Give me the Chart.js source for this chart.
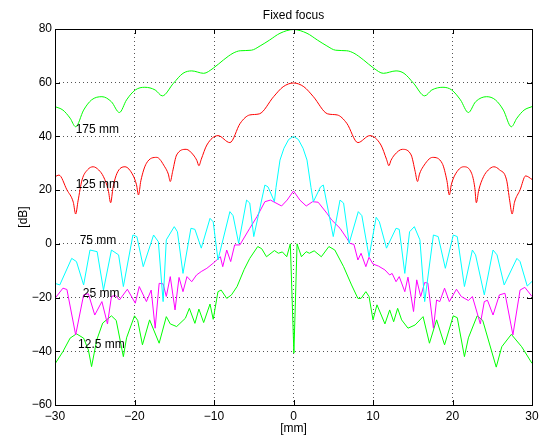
<!DOCTYPE html>
<html>
<head>
<meta charset="utf-8">
<title>Fixed focus</title>
<script src="https://cdn.jsdelivr.net/npm/chart.js@4.4.1/dist/chart.umd.min.js"></script>
<style>
  html, body { margin: 0; padding: 0; background: #fff; }
  canvas { display: block; }
</style>
</head>
<body>
<canvas id="plot" width="549" height="436"></canvas>
<script>
/* Fixed focus: 焦点固定時の横方向ビームプロファイル (5 深さ) */

const X_TICKS = [-30, -20, -10, 0, 10, 20, 30];
const Y_TICKS = [-60, -40, -20, 0, 20, 40, 60, 80];

// 175 mm (green, smooth)
const x175 = [-30, -29, -28.1, -27.4, -26.4, -25.4, -24.1, -22.9, -21.9, -21.0,
  -19.9, -18.7, -17.4, -16.5, -15.1, -13.9, -12.8, -11.3, -10.1, -8.8,
  -7.6, -6.7, -5.3, -4.2, -3.0, -1.7, 0,
  1.7, 3.0, 4.2, 5.3, 6.7, 7.6, 8.8, 10.1, 11.3, 12.9,
  13.9, 15.1, 16.5, 17.4, 18.8, 19.9, 21.0, 22.0, 22.9, 24.3,
  25.4, 26.4, 27.4, 28.1, 29.0, 30];
const db175 = [51.1, 49.8, 46.8, 43.6, 49.8, 53.6, 54.8, 52.9, 48.9, 53.6,
  57.3, 58.3, 57.3, 55.1, 59.8, 63.5, 64.4, 63.5, 65.4, 68.5,
  71.0, 71.9, 72.1, 73.7, 75.9, 78.4, 79.8,
  78.4, 75.9, 73.7, 72.1, 71.9, 71.0, 68.5, 65.4, 63.5, 64.4,
  63.5, 59.8, 55.1, 57.3, 58.3, 57.3, 53.6, 48.9, 52.9, 54.8,
  53.6, 49.8, 43.6, 46.8, 49.8, 51.1];

// 125 mm (red, smooth lobes with sharp nulls)
const x125 = [-30, -29.5, -28.5, -27.7, -27.4, -27.1, -26.6, -25.9, -25.2, -24.5,
  -23.9, -23.3, -23.0, -22.7, -22.2, -21.2, -20.2, -19.75, -19.5, -19.2,
  -18.5, -17.2, -16.2, -15.75, -15.5, -15.2, -14.7, -13.5, -12.6, -12.15,
  -11.9, -11.6, -10.9, -9.5, -8.0, -6.7, -5.5, -4.3, -2.5, -1.3,
  0,
  1.3, 2.5, 4.3, 5.5, 6.7, 8.1, 9.6, 11.0, 11.7, 12.0,
  12.25, 12.7, 13.7, 14.8, 15.3, 15.6, 15.85, 16.3, 17.5, 18.7,
  19.3, 19.6, 19.85, 20.3, 21.4, 22.4, 22.8, 23.0, 23.3, 23.9,
  24.5, 25.2, 25.9, 26.8, 27.2, 27.5, 27.8, 28.5, 29.2, 30];
const db125 = [25.0, 25.6, 20.1, 15.5, 11.1, 16.0, 23.8, 27.6, 28.7, 27.5,
  25.0, 20.0, 15.3, 21.0, 26.3, 28.7, 25.6, 22.0, 18.2, 23.5,
  30.0, 32.2, 28.7, 26.0, 23.2, 27.0, 33.1, 35.2, 33.1, 31.0,
  29.1, 31.5, 36.8, 40.3, 37.7, 44.9, 48.0, 48.4, 54.8, 58.5,
  59.9,
  58.5, 54.8, 48.4, 48.0, 44.9, 37.7, 40.3, 36.8, 31.5, 29.1,
  31.0, 33.1, 35.2, 33.1, 27.0, 23.2, 26.0, 28.7, 32.2, 30.0,
  23.5, 18.2, 22.0, 25.6, 28.7, 26.3, 21.0, 15.3, 20.0, 25.0,
  27.5, 28.7, 27.6, 23.8, 16.0, 11.1, 15.5, 20.1, 25.3, 24.0];

// 75 mm (cyan)
const x75 = [-30, -29.4, -27.9, -27.3, -26.4, -25.6, -24.7, -23.9, -22.9, -22.0,
  -21.4, -20.2, -19.7, -18.9, -17.6, -17.0, -16.4, -16.0, -15.0, -14.6,
  -13.9, -12.9, -12.4, -11.6, -10.5, -10.1, -9.5, -8.0, -7.6, -6.9,
  -5.9, -5.5, -5.0, -3.6, -3.2, -2.4, -2.2, -1.7, -1.2, -0.6,
  0,
  0.6, 1.2, 1.7, 2.2, 2.5, 3.4, 3.75, 5.0, 5.85, 6.3,
  7.0, 8.15, 8.6, 9.5, 10.4, 10.8, 11.7, 12.9, 13.3, 14.0,
  14.6, 15.2, 15.9, 16.5, 17.6, 18.2, 19.1, 20.1, 20.6, 21.5,
  22.5, 22.9, 24.0, 25.1, 25.6, 26.5, 28.1, 28.5, 29.4, 30];
const db75 = [-14.7, -15.3, -5.4, -6.6, -15.3, -2.3, -2.9, -17.2, -2.3, -4.1,
  -15.9, 3.3, 2.7, -8.5, 3.3, 0.8, -21.5, 1.5, 6.4, 4.5,
  -11.0, 5.8, 5.4, -1.6, 9.5, 8.2, -6.0, 12.0, 10.5, 0.2,
  16.3, 15.2, 2.7, 21.9, 21.2, 15.7, 21.0, 31.2, 35.6, 38.9,
  40.0,
  38.9, 35.6, 31.2, 21.0, 15.7, 21.2, 21.9, 2.7, 16.3, 15.2,
  0.2, 12.0, 10.5, -4.8, 9.9, 8.2, -1.6, 5.8, 5.4, -11.0,
  4.5, 6.4, 1.5, -21.5, 3.3, 2.7, -9.1, 3.3, 2.7, -15.9,
  -2.3, -4.1, -19.0, -2.3, -4.1, -15.3, -5.4, -6.6, -15.7, -14.0];

// 25 mm (magenta)
const x25 = [-30, -29.0, -28.5, -27.4, -26.4, -25.8, -25.0, -24.1, -23.4, -22.9,
  -22.4, -21.9, -20.9, -19.9, -19.4, -18.5, -17.9, -17.4, -16.9, -16.4,
  -16.0, -15.5, -14.9, -14.4, -13.9, -13.4, -12.8, -12.2, -11.6, -10.9,
  -10.1, -9.2, -8.9, -8.4, -7.9, -7.4, -6.75, -5.5, -4.6, -3.6,
  -2.9, -1.5, -0.8, 0,
  0.8, 1.6, 2.4, 3.1, 4.2, 4.8, 5.85, 6.7, 7.1, 7.6,
  8.1, 8.5, 9.1, 9.5, 10.0, 10.7, 11.5, 12.1, 12.4, 12.9,
  13.3, 14.0, 14.4, 15.1, 15.5, 16.0, 16.5, 16.9, 17.6, 18.0,
  18.4, 19.0, 19.6, 20.5, 21.1, 22.0, 22.5, 23.5, 24.0, 24.4,
  25.1, 25.9, 26.6, 27.6, 28.5, 29.1, 30];
const db25 = [-20.3, -16.5, -17.0, -33.9, -19.0, -18.6, -26.5, -21.5, -29.8, -19.6,
  -19.2, -20.9, -16.9, -22.1, -15.9, -21.5, -17.2, -31.4, -14.7, -14.9,
  -19.6, -12.2, -24.6, -12.5, -17.8, -12.2, -14.1, -11.6, -10.3, -9.1,
  -7.2, -4.8, -8.5, -2.3, -6.6, -0.4, -0.4, 5.8, 10.1, 15.7,
  16.3, 14.1, 16.3, 19.7,
  16.3, 14.1, 15.7, 15.5, 11.4, 8.9, 5.8, 2.1, 0.2, -0.2,
  -6.0, -3.5, -8.5, -5.0, -7.5, -8.3, -9.7, -11.6, -11.0, -14.1,
  -12.2, -17.8, -12.4, -25.2, -13.4, -19.6, -14.4, -14.6, -31.4, -20.9,
  -21.5, -16.5, -21.5, -16.9, -19.6, -21.1, -19.6, -29.8, -21.5, -21.0,
  -26.5, -19.0, -18.4, -33.9, -17.2, -16.2, -19.6];

// 12.5 mm (green)
const x12 = [-30, -29.0, -28.1, -27.3, -26.4, -25.8, -25.4, -24.75, -24.0, -22.9,
  -22.3, -21.4, -21.0, -20.0, -19.6, -19.0, -18.1, -16.9, -16.0, -15.5,
  -14.7, -13.6, -13.1, -12.4, -11.9, -11.3, -10.5, -10.1, -9.5, -9.1,
  -8.4, -7.8, -7.1, -6.2, -5.5, -4.5, -4.0, -3.4, -2.4, -1.9,
  -1.4, -0.85, -0.4, 0.05,
  0.45, 1.0, 1.6, 2.0, 2.6, 3.5, 4.45, 5.2, 6.3, 7.3,
  8.1, 8.5, 9.1, 9.5, 10.0, 10.5, 11.5, 12.1, 12.6, 13.1,
  13.6, 14.4, 15.3, 16.3, 17.1, 18.0, 19.0, 20.1, 20.6, 21.5,
  22.0, 23.1, 23.8, 25.5, 26.2, 27.4, 28.7, 30];
const db12 = [-44.7, -40.1, -35.1, -33.5, -35.1, -39.5, -45.7, -35.8, -29.5, -26.8,
  -28.5, -42.0, -35.0, -26.8, -28.5, -37.6, -28.3, -37.0, -27.1, -29.8,
  -30.8, -27.7, -24.0, -29.6, -24.3, -29.3, -22.4, -28.1, -17.8, -17.2,
  -20.3, -19.0, -15.9, -9.5, -5.4, -1.0, -1.8, -4.8, -2.5, -3.5,
  -3.0, -4.8, 0.0, -40.7,
  0.0, -4.8, -2.9, -3.5, -2.6, -4.8, -1.0, -2.3, -8.5, -15.3,
  -20.3, -20.3, -17.8, -19.6, -28.3, -22.7, -29.8, -24.6, -29.0, -24.0,
  -28.3, -31.4, -30.2, -27.1, -37.0, -28.3, -37.6, -26.8, -27.5, -42.0,
  -35.0, -26.8, -28.5, -45.9, -38.3, -33.7, -38.3, -44.5];

// 深さラベル
const LABELS = ["175 mm", "125 mm", "75 mm", "25 mm", "12.5 mm"];
const LABEL_X = [-27.4, -27.4, -26.9, -26.5, -27.1];
const LABEL_Y = [42.4, 22.0, 1.2, -18.6, -37.6];

const FONT = '"Liberation Sans", Arial, Helvetica, sans-serif';

function pts(xs, ys) {
  return xs.map((x, i) => ({ x, y: ys[i] }));
}

function tickText(v) {
  return v < 0 ? "\u2212" + Math.abs(v) : String(v);
}

/* 枠・内向き目盛り・タイトル・ラベル */
const overlay = {
  id: "overlay",
  afterDraw(chart) {
    const { ctx, chartArea: a, scales } = chart;
    const sx = scales.x, sy = scales.y;
    ctx.save();
    ctx.strokeStyle = "#000";
    ctx.lineWidth = 1;
    ctx.strokeRect(a.left + 0.5, a.top + 0.5, a.right - a.left, a.bottom - a.top);

    ctx.beginPath();
    X_TICKS.forEach((v) => {
      const p = Math.round(sx.getPixelForValue(v)) + 0.5;
      ctx.moveTo(p, a.bottom); ctx.lineTo(p, a.bottom - 5);
      ctx.moveTo(p, a.top); ctx.lineTo(p, a.top + 5);
    });
    Y_TICKS.forEach((v) => {
      const p = Math.round(sy.getPixelForValue(v)) + 0.5;
      ctx.moveTo(a.left, p); ctx.lineTo(a.left + 5, p);
      ctx.moveTo(a.right, p); ctx.lineTo(a.right - 5, p);
    });
    ctx.stroke();

    ctx.fillStyle = "#000";
    ctx.font = "12px " + FONT;
    ctx.textAlign = "center";
    ctx.textBaseline = "middle";
    ctx.fillText("Fixed focus", (a.left + a.right) / 2, 15.5);

    ctx.textAlign = "left";
    LABELS.forEach((t, i) => {
      ctx.fillText(t, sx.getPixelForValue(LABEL_X[i]), sy.getPixelForValue(LABEL_Y[i]));
    });
    ctx.restore();
  },
};

const series = [
  { label: "175 mm", xs: x175, ys: db175, color: "#00ff00", smooth: true },
  { label: "125 mm", xs: x125, ys: db125, color: "#ff0000", smooth: true },
  { label: "75 mm", xs: x75, ys: db75, color: "#00ffff", smooth: false },
  { label: "25 mm", xs: x25, ys: db25, color: "#ff00ff", smooth: false },
  { label: "12.5 mm", xs: x12, ys: db12, color: "#00ff00", smooth: false },
];

const gridOpts = { color: "#555", lineWidth: 1, drawTicks: false };
const borderOpts = { display: false, dash: [1, 3] };

new Chart(document.getElementById("plot"), {
  type: "line",
  data: {
    datasets: series.map((s) => ({
      label: s.label,
      data: pts(s.xs, s.ys),
      borderColor: s.color,
      backgroundColor: s.color,
      borderWidth: 1,
      pointRadius: 0,
      fill: false,
      cubicInterpolationMode: s.smooth ? "monotone" : "default",
      tension: 0,
    })),
  },
  options: {
    responsive: false,
    animation: false,
    layout: { padding: { top: 29, right: 17, left: 0, bottom: 0 } },
    plugins: {
      legend: { display: false },
      tooltip: { enabled: false },
      title: { display: false },
    },
    scales: {
      x: {
        type: "linear",
        min: -30,
        max: 30,
        afterBuildTicks: (axis) => { axis.ticks = X_TICKS.map((v) => ({ value: v })); },
        afterFit: (axis) => { axis.height = 31; },
        ticks: { color: "#000", font: { family: FONT, size: 12 }, padding: 4, maxRotation: 0, callback: tickText },
        grid: gridOpts,
        border: borderOpts,
        title: { display: true, text: "[mm]", color: "#000", font: { family: FONT, size: 12 }, padding: { top: 0, bottom: 0 } },
      },
      y: {
        type: "linear",
        min: -60,
        max: 80,
        afterBuildTicks: (axis) => { axis.ticks = Y_TICKS.map((v) => ({ value: v })); },
        afterFit: (axis) => { axis.width = 55; },
        ticks: { color: "#000", font: { family: FONT, size: 12 }, padding: 3, callback: tickText },
        grid: gridOpts,
        border: borderOpts,
        title: { display: true, text: "[dB]", color: "#000", font: { family: FONT, size: 12 }, padding: { top: 16, bottom: 0 } },
      },
    },
  },
  plugins: [overlay],
});
</script>
</body>
</html>
